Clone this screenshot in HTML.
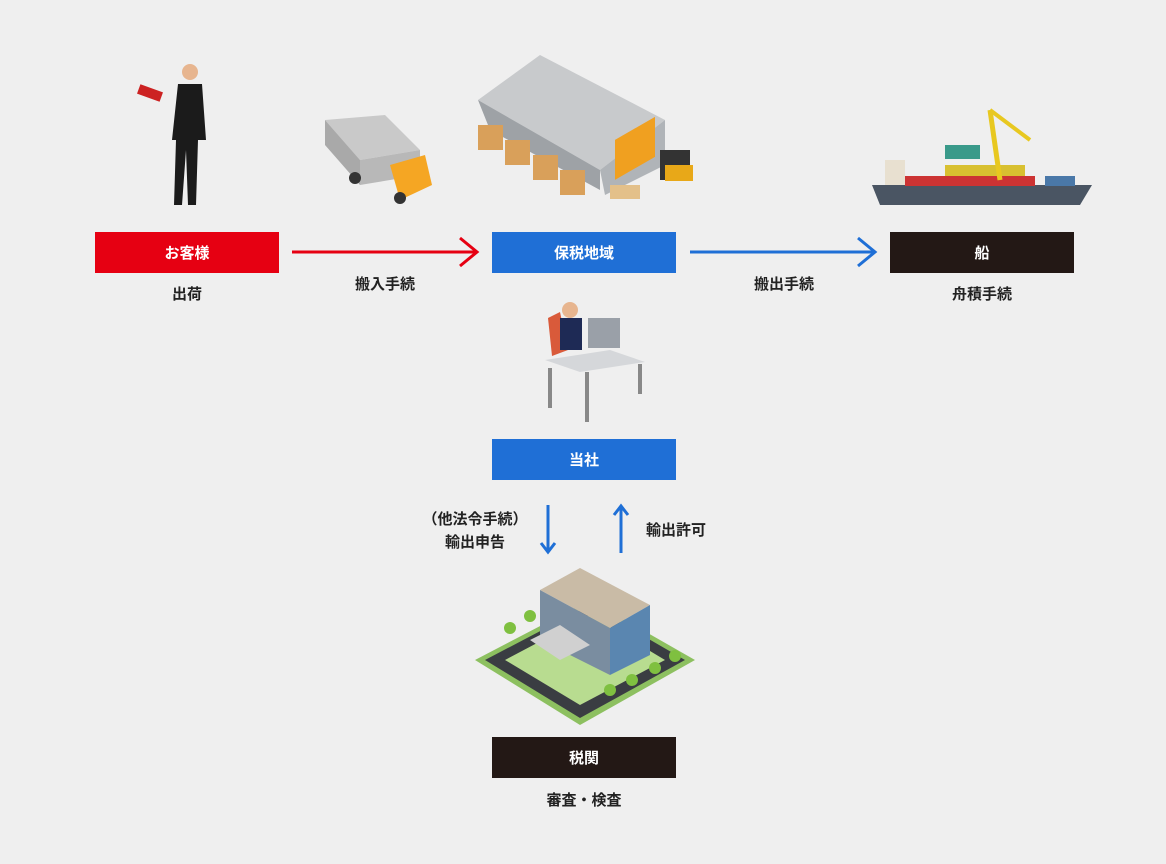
<!DOCTYPE html>
<html><head><meta charset="utf-8"><style>
html,body{margin:0;padding:0}
body{width:1166px;height:864px;background:#efefef;position:relative;overflow:hidden;font-family:"Liberation Sans","Noto Sans CJK JP",sans-serif;}
.box{position:absolute;width:184px;height:41px;color:#fff;font-size:15px;font-weight:bold;display:flex;align-items:center;justify-content:center}
.red{background:#e60012}.blue{background:#1f6fd6}.dark{background:#231815}
.t{position:absolute;font-size:15px;color:#222;font-weight:bold;text-align:center;white-space:nowrap;transform:translateX(-50%)}
svg{position:absolute;left:0;top:0}
</style></head><body>
<svg width="1166" height="864">
<!-- arrows -->
<line x1="292" y1="252" x2="476" y2="252" stroke="#e60012" stroke-width="3"/>
<polyline points="460,238 477,252 460,266" fill="none" stroke="#e60012" stroke-width="3"/>
<line x1="690" y1="252" x2="874" y2="252" stroke="#1f6fd6" stroke-width="3"/>
<polyline points="858,238 875,252 858,266" fill="none" stroke="#1f6fd6" stroke-width="3"/>
<line x1="548" y1="505" x2="548" y2="551" stroke="#1f6fd6" stroke-width="3"/>
<polyline points="541,543 548,552 555,543" fill="none" stroke="#1f6fd6" stroke-width="3"/>
<line x1="621" y1="507" x2="621" y2="553" stroke="#1f6fd6" stroke-width="3"/>
<polyline points="614,515 621,506 628,515" fill="none" stroke="#1f6fd6" stroke-width="3"/>
<!-- man -->
<circle cx="190" cy="72" r="8" fill="#e7b58f"/>
<path d="M178 84 L202 84 L206 140 L198 140 L196 205 L188 205 L186 150 L182 205 L174 205 L176 140 L172 140Z" fill="#1b1b1b"/>
<rect x="138" y="88" width="24" height="10" fill="#c22" transform="rotate(20 150 93)"/>
<!-- truck -->
<polygon points="325,120 385,115 420,150 360,160" fill="#c9c9c9"/>
<polygon points="325,120 360,160 360,185 325,145" fill="#a9a9a9"/>
<polygon points="360,160 420,150 420,175 360,185" fill="#b8b8b8"/>
<polygon points="390,165 425,155 432,185 400,200" fill="#f5a623"/>
<circle cx="355" cy="178" r="6" fill="#333"/><circle cx="400" cy="198" r="6" fill="#333"/>
<!-- warehouse -->
<polygon points="478,100 540,55 665,120 600,170" fill="#c8cacc"/>
<polygon points="478,100 600,170 600,190 490,130" fill="#9ea2a6"/>
<polygon points="600,170 665,120 665,165 605,195" fill="#b0b4b8"/>
<rect x="615" y="140" width="40" height="40" fill="#f0a020" transform="skewY(-30) translate(0,355)"/>
<g fill="#d9a05a"><rect x="478" y="125" width="25" height="25"/><rect x="505" y="140" width="25" height="25"/><rect x="533" y="155" width="25" height="25"/><rect x="560" y="170" width="25" height="25"/></g>
<rect x="610" y="185" width="30" height="14" fill="#e3c08a"/>
<rect x="660" y="150" width="30" height="30" fill="#333"/><rect x="665" y="165" width="28" height="16" fill="#e8a818"/>
<!-- ship -->
<polygon points="872,185 1092,185 1080,205 880,205" fill="#4a5563"/>
<rect x="905" y="176" width="130" height="10" fill="#c33"/>
<rect x="945" y="165" width="80" height="11" fill="#d8c030"/>
<rect x="945" y="145" width="35" height="14" fill="#3a9a8a"/>
<rect x="885" y="160" width="20" height="25" fill="#e8e0d0"/>
<line x1="1000" y1="180" x2="990" y2="110" stroke="#e8c820" stroke-width="5"/>
<line x1="990" y1="110" x2="1030" y2="140" stroke="#e8c820" stroke-width="4"/>
<rect x="1045" y="176" width="30" height="10" fill="#4a78a8"/>
<!-- desk worker -->
<path d="M548 318 L560 312 L568 350 L552 356Z" fill="#d95a3a"/>
<circle cx="570" cy="310" r="8" fill="#e7b58f"/>
<rect x="560" y="318" width="22" height="32" fill="#1e2a55"/>
<rect x="588" y="318" width="32" height="30" fill="#9aa0a8"/>
<polygon points="545,360 610,350 645,362 580,372" fill="#d5d7da"/>
<rect x="548" y="368" width="4" height="40" fill="#888"/><rect x="585" y="372" width="4" height="50" fill="#888"/><rect x="638" y="364" width="4" height="30" fill="#888"/>
<!-- customs building -->
<polygon points="475,660 590,600 695,660 580,725" fill="#8dc060"/>
<polygon points="485,660 590,605 685,660 580,718" fill="#3a3d42"/>
<polygon points="505,660 590,615 665,660 580,705" fill="#b8dc90"/>
<polygon points="540,590 580,568 650,605 610,628" fill="#c9bba6"/>
<polygon points="540,590 610,628 610,675 540,640" fill="#7a8da0"/>
<polygon points="610,628 650,605 650,655 610,675" fill="#5a86b0"/>
<polygon points="530,640 560,625 590,645 560,660" fill="#d0d0d0"/>
<g fill="#7fc040"><circle cx="510" cy="628" r="6"/><circle cx="530" cy="616" r="6"/><circle cx="610" cy="690" r="6"/><circle cx="632" cy="680" r="6"/><circle cx="655" cy="668" r="6"/><circle cx="675" cy="656" r="6"/></g>
</svg>
<div class="box red" style="left:95px;top:232px">お客様</div>
<div class="box blue" style="left:492px;top:232px">保税地域</div>
<div class="box dark" style="left:890px;top:232px">船</div>
<div class="box blue" style="left:492px;top:439px">当社</div>
<div class="box dark" style="left:492px;top:737px">税関</div>
<div class="t" style="left:187px;top:283px">出荷</div>
<div class="t" style="left:385px;top:273px">搬入手続</div>
<div class="t" style="left:784px;top:273px">搬出手続</div>
<div class="t" style="left:982px;top:283px">舟積手続</div>
<div class="t" style="left:584px;top:789px">審査・検査</div>
<div class="t" style="left:475px;top:508px;line-height:23px">（他法令手続）<br>輸出申告</div>
<div class="t" style="left:676px;top:519px">輸出許可</div>
</body></html>
